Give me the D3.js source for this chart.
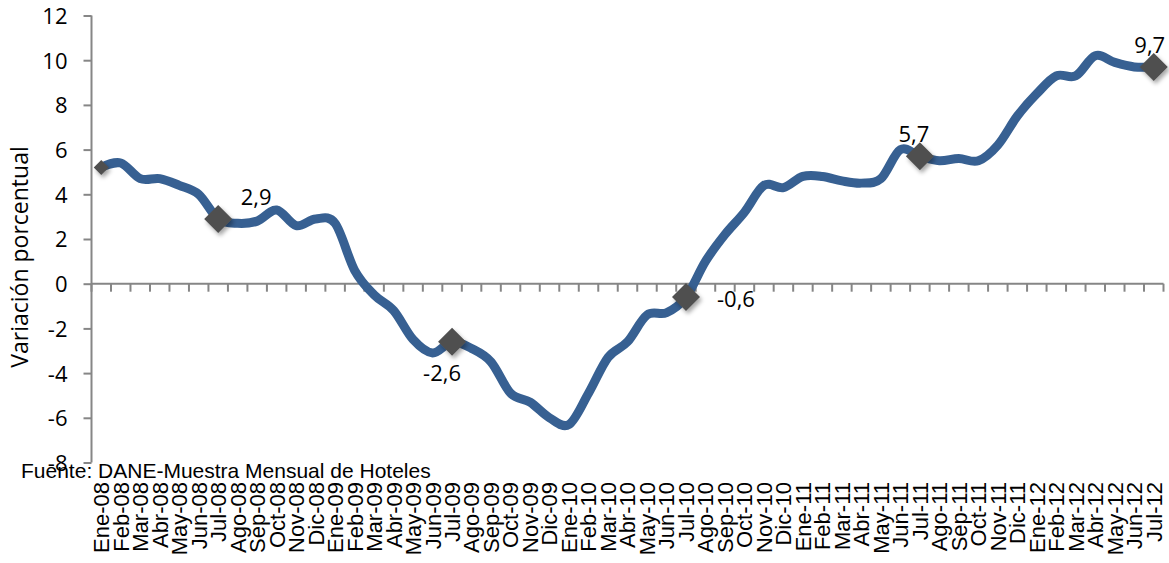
<!DOCTYPE html>
<html>
<head>
<meta charset="utf-8">
<script src="https://cdn.jsdelivr.net/npm/d3@7"></script>
<style>
  body { margin: 0; background: #fff; }
</style>
</head>
<body>
<svg id="chart" width="1169" height="563" viewBox="0 0 1169 563"></svg>
<script>
const months = ["Ene", "Feb", "Mar", "Abr", "May", "Jun", "Jul", "Ago", "Sep", "Oct", "Nov", "Dic"];
const years = ["08", "09", "10", "11", "12"];
const categories = years.flatMap(y => months.map(m => `${m}-${y}`)).slice(0, 55);

const values = [
  5.2, 5.4, 4.7, 4.7, 4.4, 4.0, 2.9, 2.7, 2.8, 3.3, 2.6, 2.9,
  2.7, 0.6, -0.5, -1.2, -2.5, -3.1, -2.6, -2.9, -3.5, -4.9, -5.3, -6.0,
  -6.3, -4.9, -3.3, -2.6, -1.4, -1.3, -0.6, 1.0, 2.2, 3.2, 4.4, 4.3,
  4.8, 4.8, 4.6, 4.5, 4.7, 6.0, 5.7, 5.5, 5.6, 5.5, 6.2, 7.5,
  8.5, 9.3, 9.3, 10.2, 9.9, 9.7, 9.7
];

const yTicks = [-8, -6, -4, -2, 0, 2, 4, 6, 8, 10, 12];
const markedPoints = ["Ene-08", "Jul-08", "Jul-09", "Jul-10", "Jul-11", "Jul-12"];
const labeledPoints = ["Jul-08", "Jul-09", "Jul-10", "Jul-11", "Jul-12"];

const yTitle = "Variación porcentual";
const source = "Fuente: DANE-Muestra Mensual de Hoteles";

const data = categories.map((c, i) => ({ name: c, value: values[i] }));

const svg = d3.select("#chart");
const axisColor = "#868686";
const lineColor = "#376092";

const x = d3.scaleBand()
  .domain(categories)
  .range([91.5, 1163.5])
  .padding(0);

const y = d3.scaleLinear()
  .domain([-8, 12])
  .range([462.5, 15.5]);

const cx = d => x(d) + x.bandwidth() / 2;
const fmt = v => v.toFixed(1).replace(".", ",");

const defs = svg.append("defs");
const shadow = defs.append("filter").attr("id", "shadow")
  .attr("x", "-50%").attr("y", "-50%").attr("width", "200%").attr("height", "200%");
shadow.append("feDropShadow")
  .attr("dx", 2).attr("dy", 3).attr("stdDeviation", 2)
  .attr("flood-color", "#000").attr("flood-opacity", 0.35);

// y axis
svg.append("g")
  .attr("transform", "translate(91.5, 0)")
  .call(d3.axisLeft(y).tickValues(yTicks).tickSize(8).tickPadding(16).tickFormat(d => d))
  .call(g => g.select(".domain").attr("stroke", axisColor).attr("stroke-width", 2).attr("d", `M0,${y(-8)}V${y(12)}`))
  .call(g => g.selectAll(".tick line").attr("stroke", axisColor).attr("stroke-width", 2))
  .call(g => g.selectAll(".tick text")
    .attr("fill", "#000")
    .attr("font-family", "Open Sans")
    .attr("font-size", 22)
    .attr("dy", "0.36em"));

// x axis along zero
const xAxis = svg.append("g");
xAxis.append("line")
  .attr("x1", x.range()[0]).attr("x2", x.range()[1])
  .attr("y1", y(0)).attr("y2", y(0))
  .attr("stroke", axisColor).attr("stroke-width", 2);

xAxis.selectAll(".xtick")
  .data([...categories.map(c => x(c)), x.range()[1]])
  .join("line")
  .attr("class", "xtick")
  .attr("x1", d => d).attr("x2", d => d)
  .attr("y1", y(0)).attr("y2", y(0) + 8)
  .attr("stroke", axisColor).attr("stroke-width", 2);

// category labels at the bottom
svg.append("g").selectAll("text")
  .data(categories)
  .join("text")
  .attr("transform", d => `translate(${cx(d)}, 482) rotate(-90)`)
  .attr("dy", "0.36em")
  .attr("text-anchor", "end")
  .attr("font-family", "Liberation Sans")
  .attr("font-size", 22)
  .attr("fill", "#000")
  .text(d => d);

// y title
svg.append("text")
  .attr("transform", "translate(28, 257) rotate(-90)")
  .attr("text-anchor", "middle")
  .attr("font-family", "Open Sans")
  .attr("font-size", 23)
  .attr("fill", "#000")
  .text(yTitle);

// source note
svg.append("text")
  .attr("x", 21)
  .attr("y", 478)
  .attr("font-family", "Liberation Sans")
  .attr("font-size", 21)
  .attr("fill", "#000")
  .text(source);

// series line
const line = d3.line()
  .x(d => cx(d.name))
  .y(d => y(d.value))
  .curve(d3.curveCardinal.tension(0));

svg.append("path")
  .datum(data)
  .attr("fill", "none")
  .attr("stroke", lineColor)
  .attr("stroke-width", 9)
  .attr("stroke-linejoin", "round")
  .attr("stroke-linecap", "round")
  .attr("d", line);

// diamond markers
svg.append("g").selectAll("path")
  .data(data.filter(d => markedPoints.includes(d.name)))
  .join("path")
  .attr("transform", d => `translate(${cx(d.name)}, ${y(d.value)})`)
  .attr("d", (d, i) => {
    const r = i === 0 ? 7.5 : 14;
    return `M0,${-r}L${r},0L0,${r}L${-r},0Z`;
  })
  .attr("fill", "#505050")
  .attr("filter", "url(#shadow)");

// data labels
const labelOffset = {
  "Jul-08": [38, -22],
  "Jul-09": [-10, 31],
  "Jul-10": [50, 2],
  "Jul-11": [-6, -22],
  "Jul-12": [-4, -22]
};

svg.append("g").selectAll("text")
  .data(data.filter(d => labeledPoints.includes(d.name)))
  .join("text")
  .attr("x", d => cx(d.name) + labelOffset[d.name][0])
  .attr("y", d => y(d.value) + labelOffset[d.name][1])
  .attr("dy", "0.36em")
  .attr("text-anchor", "middle")
  .attr("font-family", "Open Sans")
  .attr("font-size", 22)
  .attr("fill", "#000")
  .text(d => fmt(d.value));
</script>
</body>
</html>
